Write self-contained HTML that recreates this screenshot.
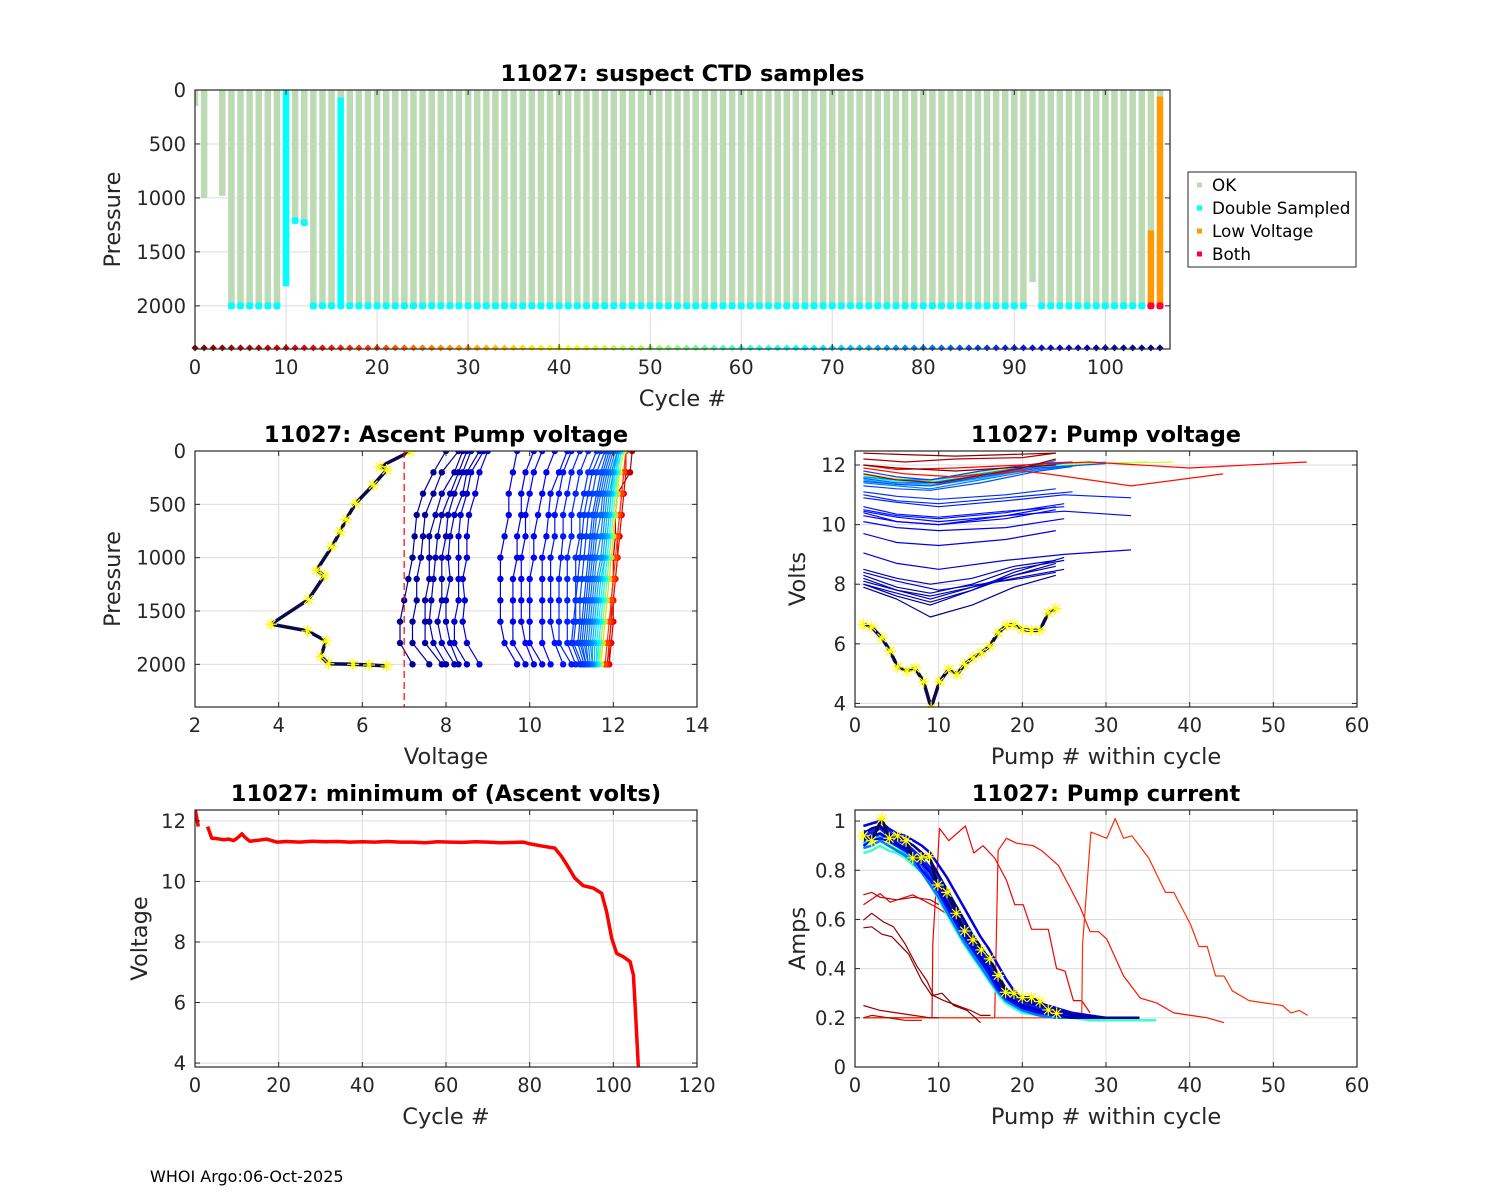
<!DOCTYPE html>
<html><head><meta charset="utf-8"><title>11027 CTD / pump diagnostics</title>
<style>
html,body{margin:0;padding:0;background:#fff;}
svg{display:block;font-family:"DejaVu Sans","Liberation Sans",sans-serif;}
.tk{font-size:19.5px;fill:#262626;}
.ttl{font-size:22.5px;font-weight:bold;fill:#000;}
.lab{font-size:22.5px;fill:#262626;}
</style></head>
<body>
<svg id="fig" width="1500" height="1200" viewBox="0 0 1500 1200" xmlns="http://www.w3.org/2000/svg">
<rect width="1500" height="1200" fill="#fff"/>
<text x="150" y="1182" font-size="16" fill="#000">WHOI Argo:06-Oct-2025</text>
</svg>
<script>
// ---------- DATA: top panel (suspect CTD samples) ----------
const ctdCycles = [];
for (let i = 0; i <= 106; i++) ctdCycles.push(i);
const okEnd = [150,1000,0,980,2000,2000,2000,2000,2000,2000,
 0,1210,1230,2000,2000,2000,70,2000,2000,2000,
 2000,2000,2000,2000,2000,2000,2000,2000,2000,2000,
 2000,2000,2000,2000,2000,2000,2000,2000,2000,2000,
 2000,2000,2000,2000,2000,2000,2000,2000,2000,2000,
 2000,2000,2000,2000,2000,2000,2000,2000,2000,2000,
 2000,2000,2000,2000,2000,2000,2000,2000,2000,2000,
 2000,2000,2000,2000,2000,2000,2000,2000,2000,2000,
 2000,2000,2000,2000,2000,2000,2000,2000,2000,2000,
 2000,2000,1780,2000,2000,2000,2000,2000,2000,2000,
 2000,2000,2000,2000,2000,1300,60];
const specCycle = [10,16,105,106];
const specFrom = [0,70,1300,60];
const specTo = [1820,2000,2000,2000];
const specType = ['ds','ds','lv','lv'];
const dotP = [null,null,null,null,2000,2000,2000,2000,2000,2000,
 null,1210,1230,2000,2000,2000,2000,2000,2000,2000,
 2000,2000,2000,2000,2000,2000,2000,2000,2000,2000,
 2000,2000,2000,2000,2000,2000,2000,2000,2000,2000,
 2000,2000,2000,2000,2000,2000,2000,2000,2000,2000,
 2000,2000,2000,2000,2000,2000,2000,2000,2000,2000,
 2000,2000,2000,2000,2000,2000,2000,2000,2000,2000,
 2000,2000,2000,2000,2000,2000,2000,2000,2000,2000,
 2000,2000,2000,2000,2000,2000,2000,2000,2000,2000,
 2000,2000,null,2000,2000,2000,2000,2000,2000,2000,
 2000,2000,2000,2000,2000,2000,2000];
const bothCycles = [105,106];
const topXTicks = [0,10,20,30,40,50,60,70,80,90,100];
const pressTicks = [0,500,1000,1500,2000];

// ---------- DATA: ascent pump voltage profiles ----------
const profP = [0,200,400,600,800,1000,1200,1400,1600,1800,2000];
const profCycle = [104,103,102,101,100,99,98,97,96,95,94,93,92,91,90,89,88,87,86,85,84,83,82,80,78,75,72,68,64,60,55,45,35,20,15,10,5];
const profV = [
 [8.0,7.7,7.45,7.3,7.25,7.2,7.1,7.0,6.9,6.9,7.2],
 [8.3,7.9,7.7,7.5,7.45,7.4,7.3,7.3,7.2,7.2,7.6],
 [8.4,8.2,7.9,7.75,7.6,7.6,7.6,7.5,7.5,7.5,7.9],
 [8.5,8.3,8.1,7.9,7.8,7.75,7.7,7.65,7.6,7.7,8.0],
 [8.6,8.4,8.2,8.05,8.0,7.9,7.9,7.9,7.8,7.9,8.2],
 [8.8,8.5,8.4,8.2,8.1,8.05,8.1,8.0,8.0,8.1,8.3],
 [8.9,8.6,8.5,8.35,8.3,8.3,8.3,8.3,8.2,8.2,8.5],
 [9.0,8.8,8.7,8.55,8.5,8.5,8.4,8.45,8.4,8.5,8.8],
 [9.7,9.6,9.5,9.5,9.4,9.3,9.3,9.3,9.3,9.4,9.7],
 [10.1,9.9,9.8,9.8,9.7,9.7,9.6,9.6,9.6,9.6,9.9],
 [10.3,10.1,10.0,9.9,9.9,9.8,9.8,9.8,9.8,9.9,10.1],
 [10.6,10.4,10.3,10.2,10.1,10.1,10.0,10.0,10.0,10.0,10.3],
 [10.9,10.7,10.5,10.45,10.4,10.3,10.3,10.3,10.3,10.3,10.5],
 [11.0,10.8,10.7,10.6,10.6,10.5,10.5,10.5,10.5,10.6,10.8],
 [11.2,11.0,10.9,10.8,10.8,10.75,10.7,10.7,10.7,10.7,11.0],
 [11.4,11.2,11.1,11.0,11.0,10.9,10.9,10.9,10.9,10.9,11.1],
 [11.6,11.4,11.3,11.2,11.2,11.1,11.1,11.1,11.05,11.0,11.2],
 [11.7,11.5,11.4,11.3,11.25,11.2,11.15,11.1,11.1,11.05,11.25],
 [11.8,11.6,11.5,11.4,11.35,11.3,11.25,11.2,11.2,11.15,11.3],
 [11.85,11.7,11.6,11.5,11.45,11.4,11.35,11.3,11.25,11.2,11.35],
 [11.9,11.75,11.65,11.55,11.5,11.45,11.4,11.35,11.3,11.25,11.35],
 [11.95,11.8,11.7,11.6,11.55,11.5,11.45,11.4,11.35,11.3,11.4],
 [12.0,11.85,11.75,11.7,11.6,11.55,11.5,11.45,11.4,11.35,11.4],
 [12.05,11.9,11.8,11.75,11.7,11.6,11.55,11.5,11.45,11.4,11.45],
 [12.1,11.95,11.85,11.8,11.75,11.7,11.6,11.55,11.5,11.45,11.5],
 [12.1,12.0,11.9,11.85,11.8,11.75,11.65,11.6,11.55,11.5,11.5],
 [12.15,12.0,11.95,11.9,11.85,11.8,11.7,11.65,11.6,11.55,11.55],
 [12.15,12.05,11.95,11.9,11.85,11.8,11.75,11.7,11.65,11.6,11.6],
 [12.2,12.05,12.0,11.95,11.9,11.85,11.8,11.75,11.7,11.65,11.6],
 [12.2,12.1,12.0,11.95,11.9,11.85,11.8,11.75,11.7,11.65,11.65],
 [12.2,12.1,12.05,12.0,11.95,11.9,11.85,11.8,11.75,11.7,11.65],
 [12.25,12.15,12.05,12.0,11.95,11.9,11.85,11.8,11.75,11.7,11.7],
 [12.25,12.15,12.1,12.05,12.0,11.95,11.9,11.85,11.8,11.75,11.7],
 [12.3,12.25,12.2,12.15,12.1,12.05,12.0,11.95,11.9,11.85,11.8],
 [12.3,12.25,12.2,12.15,12.1,12.1,12.05,12.0,11.95,11.9,11.85],
 [12.3,12.3,12.25,12.2,12.15,12.1,12.05,12.0,12.0,11.95,11.9],
 [12.45,12.4,12.1,12.05,12.05,12.0,12.0,11.95,11.95,11.9,11.9]
];
const lastProfV = [7.14,6.42,6.58,6.26,5.84,5.61,5.47,5.27,4.91,5.09,4.71,3.82,4.69,5.13,5.01,5.19,5.78,6.16,6.58];
const lastProfP = [6,147,178,319,491,642,757,898,1117,1171,1393,1624,1687,1781,1925,1994,2000,2006,2015];
const voltLimit = [7];
const mlXTicks = [2,4,6,8,10,12,14];

// ---------- DATA: pump voltage vs pump number ----------
const pvCycle = [104,103,102,101,100,99,98,97,96,95,94,93,92,92,91,91,90,89,88,85,80,75,70,65,50,45,84,82,78,86,15,14,5,3,1,0];
const pvX = [
 [1,5,9,14,19,24],[1,5,9,14,19,24],[1,5,9,14,19,25],[1,5,9,14,19,25],[1,5,9,14,19,24],[1,5,9,14,19,25],[1,5,9,14,19,24],[1,5,10,15,20,24],
 [1,5,10,18,25,33],[1,5,10,18,24],[1,5,10,18,25],[1,5,10,18,24],[1,5,10,18,24],[1,5,10,18,25,33],[1,5,10,18,25],[1,5,10,18,25],
 [1,5,10,18,25,33],[1,5,10,18,26],[1,5,10,18,24],[1,5,9,15,22,26],[1,5,9,15,22,27],[1,5,9,15,22,28],[1,5,9,15,22,30],[1,5,9,15,22,29],
 [1,5,9,15,22,35],[1,5,9,15,22,38],[1,5,9,15,22,30],[1,5,9,15,22,26],[1,5,9,15,22,24],[1,5,9,15,22,26],[1,6,12,20,23,33,44],[1,5,12,20,28,40,54],
 [1,6,12,20,24],[1,5,10,20,24],[1,6,12,18,24],[1,5,12,18,24]];
const pvY = [
 [7.9,7.5,6.9,7.3,7.9,8.3],[8.0,7.6,7.3,7.8,8.3,8.7],[8.1,7.8,7.5,7.9,8.2,8.5],[8.3,7.9,7.7,8.0,8.5,8.8],[8.2,7.8,7.6,7.9,8.3,8.6],[8.0,7.7,7.4,7.8,8.4,8.9],[8.5,8.2,8.0,8.2,8.6,8.8],[8.4,8.1,7.8,8.0,8.2,8.4],
 [9.05,8.7,8.5,8.8,9.0,9.15],[9.7,9.4,9.3,9.5,9.8],[10.1,9.9,9.8,9.9,10.2],[10.3,10.1,10.0,10.2,10.5],[10.4,10.1,10.0,10.3,10.6],[10.45,10.25,10.1,10.3,10.45,10.3],[10.5,10.3,10.2,10.4,10.7],[10.6,10.35,10.25,10.45,10.6],
 [10.9,10.75,10.6,10.8,11.0,10.9],[11.0,10.8,10.7,10.9,11.1],[11.1,10.95,10.85,11.0,11.2],[11.3,11.2,11.15,11.4,11.8,11.95],[11.4,11.3,11.2,11.5,11.85,12.0],[11.5,11.35,11.3,11.55,11.9,12.05],[11.55,11.4,11.35,11.6,11.95,12.1],[11.6,11.45,11.4,11.65,11.95,12.05],
 [11.65,11.5,11.45,11.7,12.0,12.1],[11.7,11.55,11.5,11.75,12.0,12.1],[11.45,11.35,11.3,11.6,11.9,12.05],[11.55,11.4,11.4,11.65,11.95,12.1],[11.6,11.5,11.5,11.7,12.0,12.15],[11.8,11.6,11.5,11.8,12.05,12.1],[11.9,11.7,11.6,11.8,11.7,11.3,11.7],[12.0,11.85,11.9,12.0,12.1,11.9,12.1],
 [12.2,12.1,12.2,12.25,12.4],[11.7,11.5,11.4,11.9,12.2],[12.4,12.35,12.3,12.35,12.4],[12.0,11.9,11.8,11.9,12.0]];
const pvLastX = [1,2,3.2,4.2,5.1,6.2,7.2,8.2,9.1,10.1,11.2,12.2,13.1,14.1,15.1,16.1,17.1,18.1,19,20,21.1,22.1,23.1,24];
const pvLastY = [6.65,6.56,6.2,5.76,5.22,5.09,5.18,4.73,3.86,4.73,5.14,4.98,5.31,5.53,5.7,5.92,6.37,6.61,6.65,6.48,6.45,6.45,7.04,7.18];
const mrXTicks = [0,10,20,30,40,50,60];
const voltTicks = [4,6,8,10,12];

// ---------- DATA: minimum ascent volts per cycle ----------
const minCycle = [0,0.8,2,3,4,5,6.8,8,9.2,10,11.2,12,13.1,15,17.1,19.5,22,25,28,31,34,37,40,43,46,49,52,55,58,61,64,67,70,73,76,78.5,80.1,83.3,86,87.5,88.9,90.8,92.8,95.2,97.2,98.4,99.6,100.8,102.4,104,104.8,105.2,105.7,106];
const minVolt = [12.42,11.81,null,11.81,11.43,11.42,11.38,11.4,11.35,11.42,11.57,11.45,11.33,11.36,11.4,11.3,11.32,11.3,11.33,11.31,11.32,11.3,11.31,11.3,11.32,11.3,11.3,11.28,11.31,11.3,11.29,11.31,11.3,11.28,11.29,11.3,11.24,11.16,11.1,10.85,10.55,10.11,9.86,9.78,9.61,9.0,8.12,7.62,7.51,7.35,6.91,5.92,4.6,3.83];
const blXTicks = [0,20,40,60,80,100,120];

// ---------- DATA: pump current ----------
const pcKnots = [1,2,3,4,5,6,7,8,9,10,11,12,13,14,15,16,17,18,19,20,22,24,26,28,30,32,34,36];
const pcCycle = [104,100,96,92,90,88,85,80,70,60,50,40];
const pcAmps = [
 [0.95,0.97,0.98,0.95,0.93,0.92,0.9,0.87,0.84,0.78,0.72,0.66,0.6,0.54,0.49,0.44,0.38,0.32,0.29,0.27,0.25,0.23,0.21,0.205,0.2,0.2,0.2,null],
 [0.92,0.94,0.95,0.93,0.91,0.89,0.86,0.83,0.79,0.73,0.67,0.61,0.55,0.5,0.45,0.4,0.34,0.29,0.27,0.25,0.23,0.21,0.2,0.2,0.2,0.2,null,null],
 [0.98,0.99,1.0,0.97,0.95,0.94,0.92,0.9,0.87,0.82,0.77,0.71,0.65,0.59,0.53,0.48,0.42,0.36,0.31,0.28,0.26,0.24,0.22,0.21,0.2,0.2,0.2,null],
 [0.9,0.92,0.93,0.92,0.9,0.88,0.85,0.8,0.76,0.71,0.65,0.59,0.53,0.48,0.43,0.38,0.32,0.28,0.26,0.24,0.22,0.21,0.2,0.2,0.2,null,null,null],
 [0.96,0.95,0.97,0.94,0.92,0.91,0.88,0.85,0.81,0.76,0.7,0.64,0.58,0.52,0.47,0.42,0.36,0.31,0.28,0.26,0.24,0.22,0.21,0.2,0.2,0.2,0.2,null],
 [0.93,0.96,0.97,0.96,0.93,0.9,0.87,0.84,0.8,0.75,0.69,0.63,0.57,0.51,0.46,0.41,0.35,0.3,0.28,0.26,0.23,0.22,0.2,0.2,0.2,0.2,null,null],
 [0.92,0.93,0.95,0.92,0.9,0.88,0.86,0.82,0.77,0.72,0.66,0.6,0.54,0.49,0.44,0.39,0.33,0.28,0.26,0.24,0.22,0.21,0.2,0.2,0.2,null,null,null],
 [0.89,0.9,0.92,0.9,0.88,0.86,0.83,0.79,0.74,0.69,0.63,0.57,0.51,0.46,0.41,0.36,0.31,0.27,0.25,0.23,0.21,0.2,0.2,0.2,null,null,null,null],
 [0.91,0.93,0.94,0.92,0.9,0.87,0.84,0.8,0.76,0.7,0.64,0.58,0.52,0.47,0.42,0.37,0.31,0.27,0.25,0.23,0.21,0.2,0.2,0.2,null,null,null,null],
 [0.87,0.88,0.9,0.88,0.87,0.85,0.82,0.79,0.74,0.68,0.62,0.56,0.5,0.45,0.4,0.35,0.3,0.26,0.24,0.22,0.21,0.2,0.2,0.19,0.19,0.19,0.19,0.19],
 [0.9,0.92,0.93,0.91,0.89,0.87,0.84,0.8,0.75,0.7,0.64,0.58,0.52,0.47,0.42,0.37,0.31,0.27,0.25,0.23,0.22,0.21,0.2,0.2,0.2,null,null,null],
 [0.94,0.96,0.97,0.95,0.93,0.91,0.88,0.84,0.8,0.74,0.68,0.62,0.56,0.5,0.45,0.4,0.34,0.3,0.27,0.25,0.23,0.22,0.21,0.2,0.2,null,null,null]];
const pcRedCycle = [12,15,18,10,8,2,1,6,4];
const pcRedX = [
 [1,9.2,9.3,10.1,11.2,13.2,14.2,15.3,16.7,18.1,19.1,20.1,21.1,23.1,24.1,25.1,26.1,27.1,28.1],
 [1,16.7,17.1,18.1,19.3,21.3,22.3,24.3,25.7,26.9,28.1,29.1,30.1,32.1,34.1,36.1,38.1,40.1,42.1,44.1],
 [1,27.1,27.2,28.2,30.1,31.1,32.1,33.1,35.1,37.1,38.1,40.1,41.1,42.1,43.1,44.1,45.1,47.1,49.1,51.1,52.1,53.1,54.1],
 [1,3,4.2,6.9,9.7,12,14,16,18],
 [1,2,3,5,7,9,10],
 [1,2,3.4,4.6,6,7.4,8.6,9.4,10.6,12.2,13.8,15,16.2],
 [1,2,3.2,4.4,6.4,8,9.2,10.4,11.8,13.4,15],
 [1,2,4,6,8],
 [1,3,5,7,9,10]];
const pcRedY = [
 [0.2,0.2,0.5,0.97,0.92,0.98,0.87,0.9,0.85,0.76,0.66,0.66,0.56,0.56,0.4,0.39,0.27,0.27,0.22],
 [0.2,0.2,0.88,0.93,0.91,0.9,0.88,0.82,0.73,0.65,0.55,0.55,0.52,0.37,0.28,0.26,0.22,0.21,0.2,0.18],
 [0.2,0.2,0.5,0.955,0.93,1.01,0.93,0.94,0.85,0.71,0.71,0.58,0.49,0.49,0.37,0.37,0.31,0.27,0.26,0.25,0.22,0.23,0.21],
 [0.66,0.705,0.67,0.7,0.65,0.6,0.5,0.42,0.3],
 [0.7,0.71,0.69,0.68,0.69,0.68,0.66],
 [0.597,0.625,0.59,0.57,0.5,0.41,0.35,0.29,0.27,0.25,0.23,0.21,0.21],
 [0.566,0.57,0.54,0.53,0.46,0.35,0.29,0.3,0.25,0.23,0.18],
 [0.2,0.21,0.2,0.19,0.19],
 [0.25,0.23,0.22,0.21,0.2,0.2]];
const pcLastX = [1,2,3.2,4.1,5.1,6.1,6.9,7.9,8.9,9.9,11,12.1,13.1,14.1,15.1,16.1,17.1,18,19,20,21.1,22.1,23.1,24.1];
const pcLastY = [0.94,0.92,1.01,0.93,0.94,0.92,0.85,0.85,0.855,0.74,0.71,0.625,0.553,0.517,0.476,0.44,0.372,0.304,0.3,0.282,0.282,0.266,0.232,0.218];
const ampTicks = [0,0.2,0.4,0.6,0.8,1];

// ---------- helpers ----------
const NS = 'http://www.w3.org/2000/svg';
const fig = document.getElementById('fig');
function mk(tag, attrs, parent) {
  const e = document.createElementNS(NS, tag);
  for (const k in attrs) e.setAttribute(k, attrs[k]);
  (parent || fig).appendChild(e);
  return e;
}
function jet(c) {
  const t = 1 - c / 106;
  const cl = v => Math.max(0, Math.min(1, v));
  const r = cl(1.5 - Math.abs(4 * t - 3)), g = cl(1.5 - Math.abs(4 * t - 2)), b = cl(1.5 - Math.abs(4 * t - 1));
  return 'rgb(' + Math.round(r * 255) + ',' + Math.round(g * 255) + ',' + Math.round(b * 255) + ')';
}
function makeAxes(name, l, t, r, b, xlim, ylim, rev) {
  const ax = {l, t, r, b};
  ax.sx = v => l + (v - xlim[0]) / (xlim[1] - xlim[0]) * (r - l);
  ax.sy = rev ? (v => t + (v - ylim[0]) / (ylim[1] - ylim[0]) * (b - t))
              : (v => b - (v - ylim[0]) / (ylim[1] - ylim[0]) * (b - t));
  const g = mk('g', {});
  
  
  ax.g = g;
  const clipId = name + '-clip';
  const cp = mk('clipPath', {id: clipId}, g);
  mk('rect', {x: l, y: t, width: r - l, height: b - t}, cp);
  ax.grid = mk('g', {}, g);
  
  
  ax.plot = mk('g', {'clip-path': 'url(#' + clipId + ')'}, g);
  
  
  return ax;
}
function finishAxes(ax, xticks, yticks, xfmt, yfmt, title, xlabel, ylabel, ylabX) {
  const {l, t, r, b, g} = ax;
  for (const v of xticks) {
    const x = ax.sx(v);
    const gl = mk('line', {x1: x, y1: t, x2: x, y2: b, stroke: '#dcdcdc', 'stroke-width': 1}, ax.grid);
    
    
    mk('line', {x1: x, y1: b, x2: x, y2: b - 5, stroke: '#262626', 'stroke-width': 1}, g);
    mk('line', {x1: x, y1: t, x2: x, y2: t + 5, stroke: '#262626', 'stroke-width': 1}, g);
    const tx = mk('text', {x: x, y: b + 25, 'text-anchor': 'middle', class: 'tk'}, g);
    tx.textContent = xfmt(v);
    
    
  }
  for (const v of yticks) {
    const y = ax.sy(v);
    const gl = mk('line', {x1: l, y1: y, x2: r, y2: y, stroke: '#dcdcdc', 'stroke-width': 1}, ax.grid);
    
    
    mk('line', {x1: l, y1: y, x2: l + 5, y2: y, stroke: '#262626', 'stroke-width': 1}, g);
    mk('line', {x1: r, y1: y, x2: r - 5, y2: y, stroke: '#262626', 'stroke-width': 1}, g);
    const tx = mk('text', {x: l - 9, y: y + 7, 'text-anchor': 'end', class: 'tk'}, g);
    tx.textContent = yfmt(v);
    
    
  }
  const bx = mk('rect', {x: l, y: t, width: r - l, height: b - t, fill: 'none', stroke: '#262626', 'stroke-width': 1.2}, g);
  
  
  const tt = mk('text', {x: (l + r) / 2, y: t - 9, 'text-anchor': 'middle', class: 'ttl'}, g);
  tt.textContent = title;
  
  
  const xl = mk('text', {x: (l + r) / 2, y: b + 57, 'text-anchor': 'middle', class: 'lab'}, g);
  xl.textContent = xlabel;
  
  
  const cy = (t + b) / 2;
  const yl = mk('text', {x: ylabX, y: cy, 'text-anchor': 'middle', class: 'lab', transform: 'rotate(-90 ' + ylabX + ' ' + cy + ')'}, g);
  yl.textContent = ylabel;
  
  
}
function poly(ax, xs, ys, color, w, name) {
  let d = '', pen = false;
  for (let i = 0; i < xs.length; i++) {
    if (ys[i] === null || ys[i] === undefined) { pen = false; continue; }
    d += (pen ? 'L' : 'M') + ax.sx(xs[i]).toFixed(1) + ',' + ax.sy(ys[i]).toFixed(1);
    pen = true;
  }
  const p = mk('path', {d: d, fill: 'none', stroke: color, 'stroke-width': w, 'stroke-linejoin': 'round'}, ax.plot);
  
  
  return p;
}
function star(ax, x, y, name) {
  const cx = ax.sx(x), cy = ax.sy(y), s = 6;
  const d = 'M' + (cx - s) + ',' + cy + 'h' + 2 * s + 'M' + cx + ',' + (cy - s) + 'v' + 2 * s +
    'M' + (cx - 4.3) + ',' + (cy - 4.3) + 'l8.6,8.6M' + (cx - 4.3) + ',' + (cy + 4.3) + 'l8.6,-8.6';
  const p = mk('path', {d: d, stroke: '#ffff00', 'stroke-width': 1.2, fill: 'none'}, ax.plot);
  
  
}
const fmtInt = v => String(v);
const fmtAmp = v => String(v);

// ---------- TOP PANEL ----------
const topAx = makeAxes('suspect-ctd-chart', 195, 90, 1170, 349, [0, 107.1], [0, 2400], true);
for (let i = 0; i < ctdCycles.length; i++) {
  if (okEnd[i] > 0) {
    const x = topAx.sx(ctdCycles[i]);
    const ln = mk('line', {x1: x, y1: topAx.sy(0), x2: x, y2: topAx.sy(okEnd[i]), stroke: '#bcdab4', 'stroke-width': 6.5}, topAx.plot);
    
    
  }
}
for (let i = 0; i < specCycle.length; i++) {
  const x = topAx.sx(specCycle[i]);
  const ln = mk('line', {x1: x, y1: topAx.sy(specFrom[i]), x2: x, y2: topAx.sy(specTo[i]), stroke: specType[i] === 'ds' ? '#00ffff' : '#ff9a00', 'stroke-width': 6.5}, topAx.plot);
  
  
}
for (let i = 0; i < ctdCycles.length; i++) {
  if (dotP[i] === null) continue;
  const both = bothCycles.indexOf(ctdCycles[i]) >= 0;
  const c = mk('rect', {x: topAx.sx(ctdCycles[i]) - 3.5, y: topAx.sy(dotP[i]) - 3.5, width: 7, height: 7, rx: 2.5, fill: both ? '#ff0033' : '#00ffff'}, topAx.plot);
  
  
}
for (let i = 0; i < ctdCycles.length; i++) {
  const cx = topAx.sx(ctdCycles[i]), cy = topAx.sy(2390);
  const d = mk('path', {d: 'M' + (cx - 3.5) + ',' + cy + 'L' + cx + ',' + (cy - 3.5) + 'L' + (cx + 3.5) + ',' + cy + 'L' + cx + ',' + (cy + 3.5) + 'Z', fill: jet(ctdCycles[i])}, topAx.g);
  
  
}
finishAxes(topAx, topXTicks, pressTicks, fmtInt, fmtInt, '11027: suspect CTD samples', 'Cycle #', 'Pressure', 120);

// legend
const lg = mk('g', {});


mk('rect', {x: 1188, y: 172, width: 168, height: 95, fill: '#fff', stroke: '#262626', 'stroke-width': 1}, lg);
const legNames = ['OK', 'Double Sampled', 'Low Voltage', 'Both'];
const legColors = ['#bcdab4', '#00ffff', '#ff9a00', '#ff0033'];
for (let i = 0; i < 4; i++) {
  const y = 185 + i * 23;
  const e = mk('g', {}, lg);
  
  
  mk('rect', {x: 1197, y: y - 2.5, width: 5, height: 5, fill: legColors[i]}, e);
  const tx = mk('text', {x: 1212, y: y + 6, 'font-size': 16.8, fill: '#000'}, e);
  tx.textContent = legNames[i];
}

// ---------- MIDDLE LEFT ----------
const mlAx = makeAxes('ascent-pump-voltage-chart', 195, 451, 697, 707, [2, 14], [0, 2400], true);
for (let k = profCycle.length - 1; k >= 0; k--) {
  const col = jet(profCycle[k]);
  poly(mlAx, profV[k], profP, col, 1.2, 'voltage-profile-line');
  for (let j = 0; j < profP.length; j++) {
    const c = mk('circle', {cx: mlAx.sx(profV[k][j]), cy: mlAx.sy(profP[j]), r: 3.2, fill: col}, mlAx.plot);
    
    
  }
}
poly(mlAx, lastProfV, lastProfP, '#0a0a4a', 3.5, 'last-cycle-profile');
for (let j = 0; j < lastProfV.length; j++) star(mlAx, lastProfV[j], lastProfP[j], 'last-cycle-star');
for (const v of voltLimit) {
  const ln = mk('line', {x1: mlAx.sx(v), y1: 451, x2: mlAx.sx(v), y2: 707, stroke: '#ff0000', 'stroke-width': 1.2, 'stroke-dasharray': '7,4'}, mlAx.plot);
  
  
}
finishAxes(mlAx, mlXTicks, pressTicks, fmtInt, fmtInt, '11027: Ascent Pump voltage', 'Voltage', 'Pressure', 120);

// ---------- MIDDLE RIGHT ----------
const mrAx = makeAxes('pump-voltage-chart', 855, 451, 1357, 707, [0, 60], [3.88, 12.47], false);
for (let k = 0; k < pvCycle.length; k++) poly(mrAx, pvX[k], pvY[k], jet(pvCycle[k]), 1.2, 'pump-voltage-line');
poly(mrAx, pvLastX, pvLastY, '#0a0a4a', 3.5, 'last-cycle-pump-voltage');
for (let j = 0; j < pvLastX.length; j++) star(mrAx, pvLastX[j], pvLastY[j], 'last-cycle-star');
finishAxes(mrAx, mrXTicks, voltTicks, fmtInt, fmtInt, '11027: Pump voltage', 'Pump # within cycle', 'Volts', 805);

// ---------- BOTTOM LEFT ----------
const blAx = makeAxes('minimum-ascent-volts-chart', 195, 810, 697, 1067, [0, 120], [3.87, 12.36], false);
poly(blAx, minCycle, minVolt, '#ff0000', 3.5, 'minimum-volts-line');
finishAxes(blAx, blXTicks, voltTicks, fmtInt, fmtInt, '11027: minimum of (Ascent volts)', 'Cycle #', 'Voltage', 147);

// ---------- BOTTOM RIGHT ----------
const brAx = makeAxes('pump-current-chart', 855, 810, 1357, 1067, [0, 60], [0, 1.045], false);
for (let k = 0; k < pcRedCycle.length; k++) poly(brAx, pcRedX[k], pcRedY[k], jet(pcRedCycle[k]), 1.2, 'pump-current-line-early');
for (let k = pcCycle.length - 1; k >= 0; k--) poly(brAx, pcKnots, pcAmps[k], jet(pcCycle[k]), 2.5, 'pump-current-line');
poly(brAx, pcLastX, pcLastY, '#0a0a4a', 3, 'last-cycle-pump-current');
for (let j = 0; j < pcLastX.length; j++) star(brAx, pcLastX[j], pcLastY[j], 'last-cycle-star');
finishAxes(brAx, mrXTicks, ampTicks, fmtInt, fmtAmp, '11027: Pump current', 'Pump # within cycle', 'Amps', 805);
</script>
</body></html>
